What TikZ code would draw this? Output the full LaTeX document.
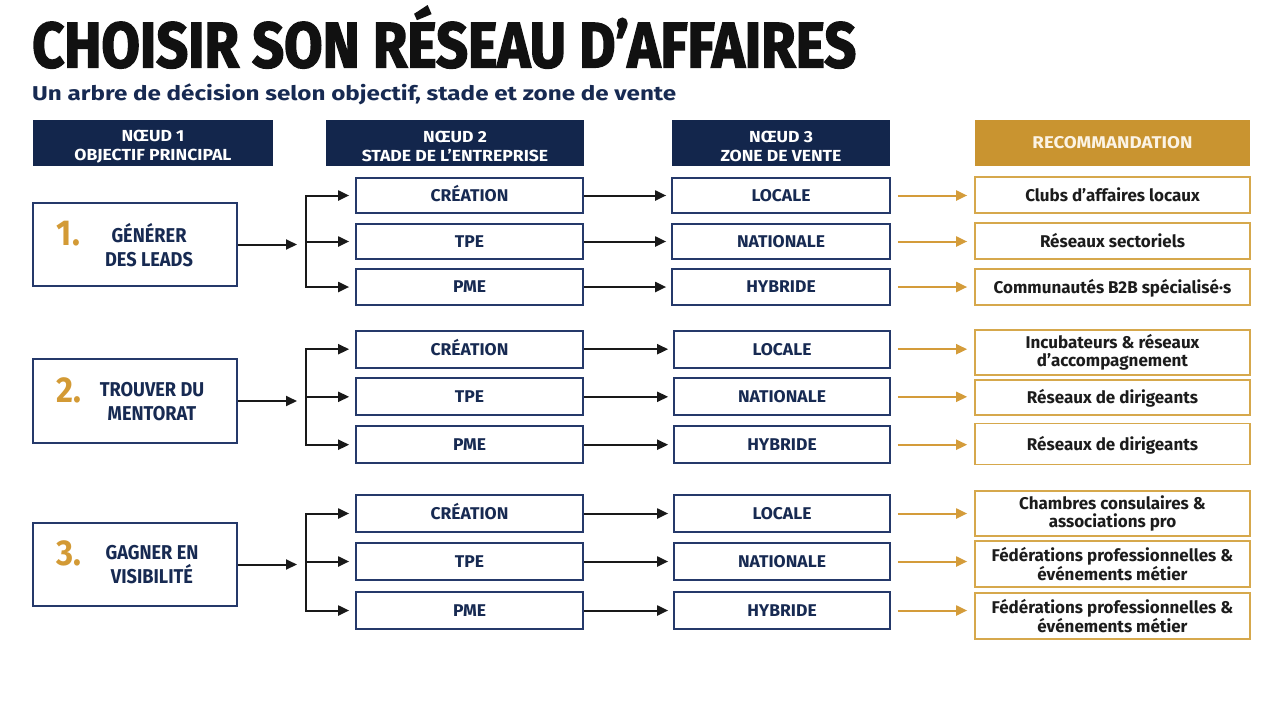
\documentclass[tikz,border=0pt]{standalone}
\usepackage{fontspec}
\usepackage{graphicx}
\setmainfont{Fira Sans}
\newfontfamily\titlef[BoldFeatures={FakeBold=2.5}]{Fira Sans}
\newfontfamily\hdrf[FakeStretch=1.1]{Fira Sans}
\newfontfamily\lblf[FakeStretch=1.03]{Fira Sans}
\newfontfamily\objf[FakeStretch=0.91]{Fira Sans}
\newfontfamily\recf[FakeStretch=1.0]{Fira Sans}
\usetikzlibrary{arrows.meta}
\definecolor{navy}{HTML}{13264C}
\definecolor{navytext}{HTML}{172A52}
\definecolor{boxline}{HTML}{25396A}
\definecolor{goldfill}{HTML}{C99430}
\definecolor{goldline}{HTML}{D6A84C}
\definecolor{goldarr}{HTML}{D49C3A}
\definecolor{goldnum}{HTML}{D39A35}
\definecolor{titleblack}{HTML}{111111}
\definecolor{rectext}{HTML}{1C1C1C}
\definecolor{cream}{HTML}{FBF3E4}
\begin{document}
\begin{tikzpicture}[x=1pt,y=-1pt,
  hdr/.style={fill=navy, draw=none, minimum height=46pt, inner sep=0pt},
  hdrtxt/.style={inner sep=0pt, text=white, align=center,
    font=\hdrf\bfseries\fontsize{16}{18.5}\selectfont},
  hdrg/.style={fill=goldfill, draw=none, minimum height=46pt, inner sep=0pt, text=cream,
    text height=11.7pt, text depth=0pt, font=\hdrf\bfseries\fontsize{17}{19}\selectfont},
  objbox/.style={draw=boxline, line width=1.8pt, fill=white, minimum width=204pt, minimum height=83pt, inner sep=0pt},
  num/.style={text=goldnum, inner sep=0pt, font=\objf\bfseries\fontsize{36}{40}\selectfont},
  objt/.style={text=navytext, inner sep=0pt, align=center, font=\objf\bfseries\fontsize{20}{24}\selectfont},
  lbl/.style={draw=boxline, line width=1.7pt, minimum height=36pt, inner sep=0pt, text=navytext,
    text height=11.7pt, text depth=0pt, font=\lblf\bfseries\fontsize{17}{19}\selectfont},
  stg/.style={lbl, minimum width=227pt},
  zon/.style={lbl, minimum width=218pt},
  zonb/.style={lbl, minimum width=216pt},
  rec/.style={draw=goldline, line width=1.7pt, minimum width=275pt, inner sep=0pt, text=rectext,
    align=center, font=\recf\bfseries\fontsize{17}{18.5}\selectfont},
  recs/.style={rec, text height=12.5pt, text depth=0pt},
  arr/.style={draw=black!90, line width=2pt, -{Triangle[length=11pt,width=10pt]}},
  garr/.style={draw=goldarr, line width=2pt, -{Triangle[length=11pt,width=10pt]}},
  brk/.style={draw=black!90, line width=2pt, line cap=rect}
]
\useasboundingbox[fill=white] (0,0) rectangle (1280,702);

% Title and subtitle
\node[anchor=base west, inner sep=0pt, text=titleblack] (title) at (32,67.3)
  {\resizebox{824pt}{\height}{\titlef\bfseries\fontsize{64}{70}\selectfont CHOISIR SON RÉSEAU D’AFFAIRES}};
\node[anchor=base west, inner sep=0pt, text=navytext] (subtitle) at (32,100)
  {\resizebox{644pt}{\height}{\bfseries\fontsize{20}{24}\selectfont Un arbre de décision selon objectif, stade et zone de vente}};

% Headers
\node[hdr, minimum width=240pt] (h1) at (153,143) {};
\node[hdrtxt] (h1t) at (153,146.5) {NŒUD 1\\OBJECTIF PRINCIPAL};
\node[hdr, minimum width=258pt] (h2) at (455,143) {};
\node[hdrtxt] (h2t) at (455,146.5) {NŒUD 2\\STADE DE L’ENTREPRISE};
\node[hdr, minimum width=218pt] (h3) at (781,143) {};
\node[hdrtxt] (h3t) at (781,146.5) {NŒUD 3\\ZONE DE VENTE};
\node[hdrg, minimum width=275pt] (h4) at (1112.5,143) {RECOMMANDATION};

% Objective boxes
\node[objbox] (o1) at (135,244.5) {};
\node[num] (o1n) at (68.5,233.5) {1.};
\node[objt] (o1t) at (149,245) {GÉNÉRER\\DES LEADS};
\node[objbox, minimum height=84pt] (o2) at (135,401) {};
\node[num] (o2n) at (68.5,390) {2.};
\node[objt] (o2t) at (152,402) {TROUVER DU\\MENTORAT};
\node[objbox] (o3) at (135,564.5) {};
\node[num] (o3n) at (68.5,553.5) {3.};
\node[objt] (o3t) at (152,565) {GAGNER EN\\VISIBILITÉ};

% Stage boxes
\node[stg, minimum height=35pt] (s11) at (469.5,195.5) {CRÉATION};
\node[stg, minimum height=35pt] (s12) at (469.5,241.5) {TPE};
\node[stg] (s13) at (469.5,287) {PME};
\node[stg, minimum height=37pt] (s21) at (469.5,349.2) {CRÉATION};
\node[stg, minimum height=37pt] (s22) at (469.5,396.8) {TPE};
\node[stg, minimum height=37pt] (s23) at (469.5,444.7) {PME};
\node[stg, minimum height=37pt] (s31) at (469.5,513.5) {CRÉATION};
\node[stg, minimum height=37pt] (s32) at (469.5,561.5) {TPE};
\node[stg, minimum height=37pt] (s33) at (469.5,610.5) {PME};

% Zone boxes
\node[zon, minimum height=35pt] (z11) at (781,195.5) {LOCALE};
\node[zon, minimum height=35pt] (z12) at (781,241.5) {NATIONALE};
\node[zon] (z13) at (781,287) {HYBRIDE};
\node[zonb, minimum height=37pt] (z21) at (782,349.2) {LOCALE};
\node[zonb, minimum height=37pt] (z22) at (782,396.8) {NATIONALE};
\node[zonb, minimum height=37pt] (z23) at (782,444.7) {HYBRIDE};
\node[zonb, minimum height=37pt] (z31) at (782,513.5) {LOCALE};
\node[zonb, minimum height=37pt] (z32) at (782,561.5) {NATIONALE};
\node[zonb, minimum height=37pt] (z33) at (782,610.5) {HYBRIDE};

% Recommendation boxes
\node[recs, minimum height=36pt] (r11) at (1112.5,195) {Clubs d’affaires locaux};
\node[recs, minimum height=36pt] (r12) at (1112.5,241) {Réseaux sectoriels};
\node[recs, minimum height=36pt] (r13) at (1112.5,287) {Communautés B2B spécialisé·s};
\node[rec, minimum height=45pt] (r21) at (1112.5,352.5) {Incubateurs \& réseaux\\d’accompagnement};
\node[recs, minimum height=35pt] (r22) at (1112.5,397.5) {Réseaux de dirigeants};
\node[recs, minimum height=41pt] (r23) at (1112.5,444) {Réseaux de dirigeants};
\node[rec, minimum height=45pt] (r31) at (1112.5,513.5) {Chambres consulaires \&\\associations pro};
\node[rec, minimum height=46pt] (r32) at (1112.5,564) {Fédérations professionnelles \&\\événements métier};
\node[rec, minimum height=46pt] (r33) at (1112.5,616) {Fédérations professionnelles \&\\événements métier};

% Junction points of the brackets
\coordinate (j1) at (306,244.5);
\coordinate (j2) at (306,401);
\coordinate (j3) at (306,564.5);

\foreach \g in {1,2,3}{
  \draw[arr, shorten >=9pt] (o\g.east) -- (j\g);
  \draw[brk] (j\g |- s\g1.west) -- (j\g |- s\g3.west);
  \foreach \k in {1,2,3}{
    \draw[arr, shorten >=6pt] (j\g |- s\g\k.west) -- (s\g\k.west);
    \draw[arr, shorten >=5pt] (s\g\k.east) -- (z\g\k.west);
    \draw[garr, shorten <=7pt, shorten >=7pt] (z\g\k.east) -- (z\g\k.east -| r\g\k.west);
  }
}
\end{tikzpicture}
\end{document}
